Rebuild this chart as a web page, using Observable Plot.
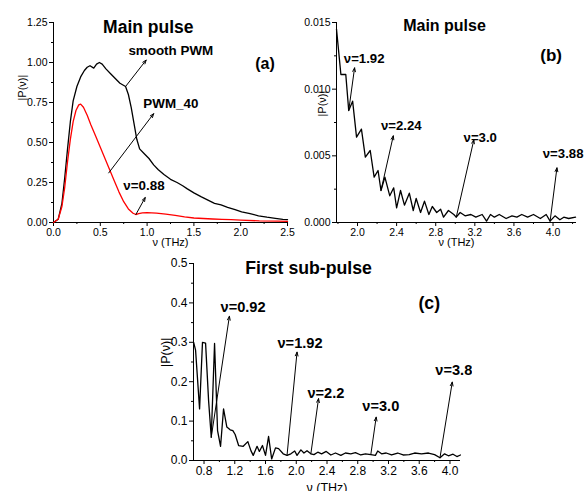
<!DOCTYPE html>
<html><head><meta charset="utf-8">
<script src="https://cdn.jsdelivr.net/npm/d3@7"></script>
<script src="https://cdn.jsdelivr.net/npm/@observablehq/plot@0.6"></script>
<style>
body{margin:0;background:#fff;}
#wrap{position:relative;width:585px;height:491px;overflow:hidden;background:#fff;}
.panel{position:absolute;overflow:hidden;background:#fff;}
</style></head><body><div id="wrap"></div>
<script>
// ---------- Panel (a): Main pulse ----------
const aDomainX = [0, 2.5];
const aDomainY = [0, 1.25];
const aTicksX = [0, 0.5, 1.0, 1.5, 2.0, 2.5];
const aMinorX = [0.25, 0.75, 1.25, 1.75, 2.25];
const aTicksY = [0, 0.25, 0.5, 0.75, 1.0, 1.25];
const aMinorY = [0.125, 0.375, 0.625, 0.875, 1.125];
const aSmoothFreq = [0, 0.05, 0.09, 0.12, 0.15, 0.18, 0.21, 0.25, 0.29, 0.33, 0.36, 0.39, 0.43, 0.46, 0.49, 0.52, 0.56, 0.61, 0.66, 0.71, 0.77, 0.80, 0.83, 0.86, 0.89, 0.92, 0.97, 1.02, 1.07, 1.12, 1.18, 1.25, 1.32, 1.38, 1.43, 1.50, 1.58, 1.65, 1.72, 1.79, 1.86, 1.94, 2.01, 2.10, 2.19, 2.28, 2.37, 2.45, 2.5];
const aSmoothPWM = [0, 0.02, 0.12, 0.28, 0.46, 0.63, 0.76, 0.85, 0.91, 0.95, 0.97, 0.98, 0.965, 0.99, 1.00, 0.99, 0.96, 0.93, 0.90, 0.87, 0.85, 0.80, 0.72, 0.62, 0.52, 0.46, 0.43, 0.40, 0.36, 0.33, 0.30, 0.27, 0.25, 0.23, 0.21, 0.185, 0.16, 0.14, 0.12, 0.11, 0.095, 0.08, 0.067, 0.055, 0.042, 0.033, 0.026, 0.02, 0.018];
const a40Freq = [0, 0.05, 0.09, 0.12, 0.15, 0.18, 0.21, 0.24, 0.27, 0.29, 0.32, 0.36, 0.40, 0.45, 0.50, 0.55, 0.60, 0.65, 0.70, 0.75, 0.80, 0.85, 0.88, 0.91, 0.95, 1.00, 1.10, 1.20, 1.30, 1.40, 1.50, 1.60, 1.70, 1.80, 1.90, 2.00, 2.20, 2.40, 2.50];
const aPWM40 = [0, 0.02, 0.10, 0.22, 0.38, 0.52, 0.63, 0.70, 0.735, 0.74, 0.72, 0.67, 0.61, 0.54, 0.47, 0.40, 0.33, 0.26, 0.19, 0.13, 0.085, 0.058, 0.05, 0.055, 0.06, 0.062, 0.058, 0.052, 0.045, 0.035, 0.028, 0.025, 0.022, 0.02, 0.018, 0.015, 0.01, 0.008, 0.007];
const aArrowX1 = [0.77, 0.59, 0.88];
const aArrowY1 = [0.85, 0.31, 0.05];
const aArrowX2 = [0.99, 1.07, 0.98];
const aArrowY2 = [1.015, 0.68, 0.156];
const aNoteText = ["smooth PWM", "PWM_40", "ν=0.88"];
const aNoteX = [0.80, 0.96, 0.746];
const aNoteY = [1.073, 0.742, 0.229];
const aTitle = ["Main pulse"], aTitleX = [1.013], aTitleY = [1.217];
const aTag = ["(a)"], aTagX = [2.26], aTagY = [0.99];

// ---------- Panel (b): Main pulse (tail) ----------
const bDomainX = [1.785, 4.24];
const bDomainY = [0, 0.015];
const bTicksX = [2.0, 2.4, 2.8, 3.2, 3.6, 4.0];
const bMinorX = [1.8, 2.2, 2.6, 3.0, 3.4, 3.8, 4.2];
const bTicksY = [0, 0.005, 0.010, 0.015];
const bMinorY = [0.0025, 0.0075, 0.0125];
const bFreq = [1.785, 1.83, 1.88, 1.91, 1.95, 1.99, 2.04, 2.08, 2.13, 2.17, 2.21, 2.24, 2.28, 2.33, 2.37, 2.40, 2.44, 2.48, 2.53, 2.57, 2.60, 2.645, 2.685, 2.73, 2.765, 2.81, 2.85, 2.88, 2.93, 2.985, 3.01, 3.05, 3.10, 3.16, 3.21, 3.275, 3.32, 3.36, 3.40, 3.45, 3.52, 3.58, 3.63, 3.68, 3.74, 3.80, 3.87, 3.93, 3.97, 4.02, 4.07, 4.11, 4.16, 4.23];
const bValue = [0.0145, 0.0111, 0.0111, 0.0084, 0.0091, 0.0064, 0.0070, 0.0049, 0.0054, 0.0034, 0.0039, 0.0024, 0.0034, 0.0020, 0.0026, 0.0011, 0.0024, 0.0013, 0.0022, 0.0009, 0.0018, 0.00075, 0.0016, 0.0006, 0.0012, 0.00075, 0.0010, 0.0004, 0.0009, 0.0006, 0.0004, 0.00075, 0.0005, 0.0006, 0.0004, 0.0006, 0.0001, 0.0006, 0.0004, 0.0006, 0.0003, 0.0005, 0.0004, 0.0006, 0.0004, 0.0006, 0.0003, 0.0006, 0.0001, 0.0005, 0.0002, 0.0004, 0.0003, 0.0004];
const bArrowX1 = [1.91, 2.24, 3.01, 3.97];
const bArrowY1 = [0.0084, 0.0024, 0.0004, 0.0001];
const bArrowX2 = [1.97, 2.366, 3.19, 4.04];
const bArrowY2 = [0.0116, 0.0065, 0.0062, 0.0041];
const bNoteText = ["ν=1.92", "ν=2.24", "ν=3.0", "ν=3.88"];
const bNoteX = [1.86, 2.24, 3.085, 3.895];
const bNoteY = [0.01228, 0.00725, 0.00635, 0.00515];
const bTitle = ["Main pulse"], bTitleX = [2.89], bTitleY = [0.01475];
const bTag = ["(b)"], bTagX = [3.98], bTagY = [0.0125];

// ---------- Panel (c): First sub-pulse ----------
const cDomainX = [0.663, 4.137];
const cDomainY = [0, 0.5];
const cTicksX = [0.8, 1.2, 1.6, 2.0, 2.4, 2.8, 3.2, 3.6, 4.0];
const cMinorX = [1.0, 1.4, 1.8, 2.2, 2.6, 3.0, 3.4, 3.8];
const cTicksY = [0, 0.1, 0.2, 0.3, 0.4, 0.5];
const cMinorY = [0.05, 0.15, 0.25, 0.35, 0.45];
const cFreq = [0.665, 0.69, 0.742, 0.78, 0.82, 0.86, 0.894, 0.937, 0.976, 1.015, 1.054, 1.097, 1.14, 1.175, 1.205, 1.25, 1.31, 1.37, 1.41, 1.44, 1.49, 1.52, 1.56, 1.60, 1.64, 1.68, 1.73, 1.77, 1.83, 1.88, 1.93, 1.98, 2.01, 2.06, 2.10, 2.14, 2.19, 2.23, 2.28, 2.33, 2.39, 2.45, 2.51, 2.58, 2.64, 2.71, 2.77, 2.84, 2.90, 2.97, 3.03, 3.06, 3.11, 3.17, 3.24, 3.32, 3.39, 3.47, 3.54, 3.63, 3.72, 3.80, 3.87, 3.93, 3.98, 4.04, 4.09, 4.137];
const cValue = [0.30, 0.28, 0.131, 0.30, 0.298, 0.15, 0.059, 0.297, 0.076, 0.036, 0.131, 0.085, 0.078, 0.076, 0.066, 0.038, 0.036, 0.048, 0.025, 0.013, 0.036, 0.023, 0.038, 0.013, 0.061, 0.004, 0.032, 0.030, 0.017, 0.013, 0.017, 0.024, 0.013, 0.027, 0.019, 0.025, 0.017, 0.015, 0.021, 0.017, 0.023, 0.014, 0.019, 0.013, 0.019, 0.017, 0.020, 0.014, 0.017, 0.015, 0.013, 0.024, 0.017, 0.019, 0.014, 0.019, 0.014, 0.015, 0.019, 0.017, 0.019, 0.015, 0.007, 0.017, 0.012, 0.016, 0.010, 0.014];
const cArrowX1 = [0.894, 1.88, 2.19, 2.97, 3.87];
const cArrowY1 = [0.059, 0.013, 0.017, 0.015, 0.007];
const cArrowX2 = [1.13, 2.01, 2.29, 3.04, 4.03];
const cArrowY2 = [0.366, 0.275, 0.157, 0.11, 0.199];
const cNoteText = ["ν=0.92", "ν=1.92", "ν=2.2", "ν=3.0", "ν=3.88"];
const cNoteX = [1.015, 1.756, 2.146, 2.86, 3.81];
const cNoteY = [0.389, 0.297, 0.170, 0.137, 0.229];
const cTitle = ["First sub-pulse"], cTitleX = [2.16], cTitleY = [0.488];
const cTag = ["(c)"], cTagX = [3.73], cTagY = [0.40];

const yLabel = "|P(ν)|";
const xLabel = "ν (THz)";
const FONT = "Liberation Sans, Arial, Helvetica, sans-serif";

const zip2 = (xs, ys) => xs.map((x, i) => ({x, y: ys[i]}));
const zipArrows = (x1, y1, x2, y2) => x1.map((v, i) => ({x1: v, y1: y1[i], x2: x2[i], y2: y2[i]}));
const zipText = (t, xs, ys) => t.map((s, i) => ({t: s, x: xs[i], y: ys[i]}));

function panel(cfg) {
  const marks = [
    Plot.axisX(cfg.ticksX, {tickSize: 4, tickPadding: 2, tickFormat: d3.format(cfg.fx), label: null, fontSize: cfg.tickFont}),
    Plot.axisX(cfg.minorX, {tickSize: 2, tickFormat: () => "", label: null}),
    Plot.axisY(cfg.ticksY, {tickSize: 4, tickPadding: 2, tickFormat: d3.format(cfg.fy), label: null, fontSize: cfg.tickFont}),
    Plot.axisY(cfg.minorY, {tickSize: 2, tickFormat: () => "", label: null}),
    Plot.ruleX([cfg.domainX[0]], {stroke: "black", strokeWidth: 1}),
    Plot.ruleY([cfg.domainY[0]], {stroke: "black", strokeWidth: 1}),
    ...cfg.lines.map(l => Plot.line(zip2(l.x, l.y), {x: "x", y: "y", stroke: l.color, strokeWidth: 1.3})),
    Plot.arrow(cfg.arrows, {x1: "x1", y1: "y1", x2: "x2", y2: "y2", stroke: "black", strokeWidth: 1, headLength: 6, headAngle: 40}),
    Plot.text(cfg.notes, {x: "x", y: "y", text: "t", textAnchor: "start", fontWeight: "bold", fontSize: cfg.noteFont}),
    Plot.text(cfg.title, {x: "x", y: "y", text: "t", textAnchor: "middle", fontWeight: "bold", fontSize: cfg.titleFont}),
    Plot.text(cfg.tag, {x: "x", y: "y", text: "t", textAnchor: "middle", fontWeight: "bold", fontSize: cfg.tagFont}),
    Plot.text([yLabel], {frameAnchor: "left", rotate: -90, dx: cfg.yLabDx, dy: cfg.yLabDy, fontSize: cfg.labFont, lineAnchor: "middle"}),
    Plot.text([xLabel], {frameAnchor: "bottom", dy: cfg.xLabDy, fontSize: cfg.labFont, lineAnchor: "middle"})
  ];
  return Plot.plot({
    width: cfg.width, height: cfg.height,
    marginLeft: cfg.m[0], marginRight: cfg.m[1], marginTop: cfg.m[2], marginBottom: cfg.m[3],
    x: {domain: cfg.domainX},
    y: {domain: cfg.domainY},
    style: {fontFamily: FONT, fontSize: "10px", color: "black", background: "white"},
    marks
  });
}

const wrap = document.getElementById("wrap");
function place(el, left, top, w, h) {
  const d = document.createElement("div");
  d.className = "panel";
  d.style.left = left + "px"; d.style.top = top + "px";
  d.style.width = w + "px"; d.style.height = h + "px";
  d.appendChild(el);
  wrap.appendChild(d);
}

place(panel({
  width: 295, height: 250, m: [53, 8, 22, 28],
  domainX: aDomainX, domainY: aDomainY,
  ticksX: aTicksX, minorX: aMinorX, ticksY: aTicksY, minorY: aMinorY,
  fx: ".1f", fy: ".2f", tickFont: 10.5,
  lines: [{x: aSmoothFreq, y: aSmoothPWM, color: "black"}, {x: a40Freq, y: aPWM40, color: "#ff0000"}],
  arrows: zipArrows(aArrowX1, aArrowY1, aArrowX2, aArrowY2),
  notes: zipText(aNoteText, aNoteX, aNoteY), noteFont: 13.4,
  title: zipText(aTitle, aTitleX, aTitleY), titleFont: 17.5,
  tag: zipText(aTag, aTagX, aTagY), tagFont: 16,
  yLabDx: -31, yLabDy: -22, xLabDy: 20, labFont: 11
}), 0, 0, 295, 250);

place(panel({
  width: 290, height: 250, m: [41, 9, 22, 28],
  domainX: bDomainX, domainY: bDomainY,
  ticksX: bTicksX, minorX: bMinorX, ticksY: bTicksY, minorY: bMinorY,
  fx: ".1f", fy: ".3f", tickFont: 10.5,
  lines: [{x: bFreq, y: bValue, color: "black"}],
  arrows: zipArrows(bArrowX1, bArrowY1, bArrowX2, bArrowY2),
  notes: zipText(bNoteText, bNoteX, bNoteY), noteFont: 13.2,
  title: zipText(bTitle, bTitleX, bTitleY), titleFont: 16,
  tag: zipText(bTag, bTagX, bTagY), tagFont: 17,
  yLabDx: -14, yLabDy: -6, xLabDy: 20, labFont: 11
}), 295, 0, 290, 250);

place(panel({
  width: 332, height: 241, m: [53, 12, 13, 31],
  domainX: cDomainX, domainY: cDomainY,
  ticksX: cTicksX, minorX: cMinorX, ticksY: cTicksY, minorY: cMinorY,
  fx: ".1f", fy: ".1f", tickFont: 12,
  lines: [{x: cFreq, y: cValue, color: "black"}],
  arrows: zipArrows(cArrowX1, cArrowY1, cArrowX2, cArrowY2),
  notes: zipText(cNoteText, cNoteX, cNoteY), noteFont: 14.6,
  title: zipText(cTitle, cTitleX, cTitleY), titleFont: 17.7,
  tag: zipText(cTag, cTagX, cTagY), tagFont: 17.7,
  yLabDx: -28, yLabDy: 5, xLabDy: 27, labFont: 12.5
}), 140, 250, 332, 241);
</script></body></html>
